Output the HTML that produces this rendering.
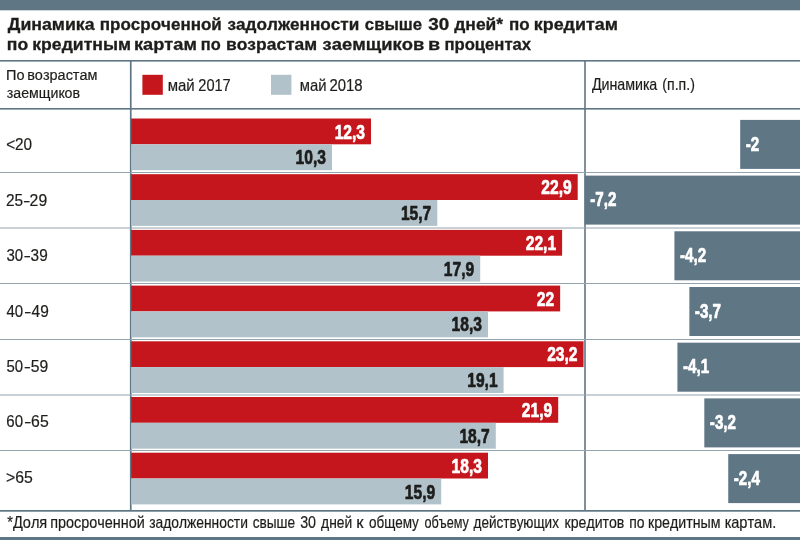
<!DOCTYPE html>
<html lang="ru"><head><meta charset="utf-8"><title>Динамика просроченной задолженности</title>
<style>html,body{margin:0;padding:0;background:#fff}body{width:800px;height:540px;overflow:hidden}svg{display:block}text{font-family:"Liberation Sans",Arial,sans-serif;fill:#1d1d1b;font-kerning:none;white-space:pre}.b{font-weight:bold}.w{fill:#fff}.r{stroke:#1d1d1b;stroke-width:.2px}.v{stroke:#1d1d1b;stroke-width:.7px;stroke-linejoin:round}.v.w{stroke:#fff}.t{stroke:#1d1d1b;stroke-width:.3px}</style></head><body>
<svg width="800" height="540" viewBox="0 0 800 540">
<rect x="0" y="0" width="800" height="540" fill="#fff"/>
<rect x="0" y="0" width="800" height="10.3" fill="#5f7685"/>
<rect x="0" y="537" width="800" height="3" fill="#5f7685"/>
<text class="b t" y="30.00" font-size="16.8"><tspan x="7.84" textLength="86.74" lengthAdjust="spacingAndGlyphs">Динамика</tspan> <tspan x="99.81" textLength="121.97" lengthAdjust="spacingAndGlyphs">просроченной</tspan> <tspan x="227.56" textLength="131.73" lengthAdjust="spacingAndGlyphs">задолженности</tspan> <tspan x="364.85" textLength="57.23" lengthAdjust="spacingAndGlyphs">свыше</tspan> <tspan x="428.32" textLength="20.96" lengthAdjust="spacingAndGlyphs">30</tspan> <tspan x="454.28" textLength="48.84" lengthAdjust="spacingAndGlyphs">дней*</tspan> <tspan x="508.97" textLength="20.60" lengthAdjust="spacingAndGlyphs">по</tspan> <tspan x="533.76" textLength="84.19" lengthAdjust="spacingAndGlyphs">кредитам</tspan></text>
<text class="b t" y="49.60" font-size="16.8"><tspan x="6.88" textLength="21.31" lengthAdjust="spacingAndGlyphs">по</tspan> <tspan x="32.28" textLength="98.70" lengthAdjust="spacingAndGlyphs">кредитным</tspan> <tspan x="133.99" textLength="62.88" lengthAdjust="spacingAndGlyphs">картам</tspan> <tspan x="200.76" textLength="19.88" lengthAdjust="spacingAndGlyphs">по</tspan> <tspan x="226.03" textLength="91.18" lengthAdjust="spacingAndGlyphs">возрастам</tspan> <tspan x="322.62" textLength="101.59" lengthAdjust="spacingAndGlyphs">заемщиков</tspan> <tspan x="428.02" textLength="12.15" lengthAdjust="spacingAndGlyphs">в</tspan> <tspan x="444.44" textLength="86.69" lengthAdjust="spacingAndGlyphs">процентах</tspan></text>
<rect x="0" y="60" width="800" height="1.6" fill="#5f7685"/>
<rect x="0" y="108" width="800" height="1.6" fill="#5f7685"/>
<rect x="0" y="510" width="800" height="1.7" fill="#5f7685"/>
<rect x="129.9" y="60" width="1.7" height="451" fill="#5f7685"/>
<rect x="584.2" y="60" width="1.6" height="451" fill="#5f7685"/>
<text class="r" y="80.30" font-size="15.5"><tspan x="6.02" textLength="18.48" lengthAdjust="spacingAndGlyphs">По</tspan> <tspan x="27.20" textLength="70.30" lengthAdjust="spacingAndGlyphs">возрастам</tspan></text>
<text class="r" y="97.50" font-size="15.5"><tspan x="6.86" textLength="73.15" lengthAdjust="spacingAndGlyphs">заемщиков</tspan></text>
<rect x="142.4" y="74.8" width="20.4" height="20" fill="#c4161c"/>
<text class="r" y="90.90" font-size="17"><tspan x="167.76" textLength="26.98" lengthAdjust="spacingAndGlyphs">май</tspan> <tspan x="198.27" textLength="32.47" lengthAdjust="spacingAndGlyphs">2017</tspan></text>
<rect x="271" y="74.8" width="20.4" height="20" fill="#b1c2cb"/>
<text class="r" y="90.90" font-size="17"><tspan x="299.72" textLength="26.70" lengthAdjust="spacingAndGlyphs">май</tspan> <tspan x="329.55" textLength="33.09" lengthAdjust="spacingAndGlyphs">2018</tspan></text>
<text class="r" y="89.60" font-size="16.4"><tspan x="591.90" textLength="65.30" lengthAdjust="spacingAndGlyphs">Динамика</tspan> <tspan x="662.32" textLength="32.55" lengthAdjust="spacingAndGlyphs">(п.п.)</tspan></text>
<rect x="131.15" y="118.50" width="239.85" height="25.8" fill="#c4161c"/>
<rect x="131.15" y="144.30" width="200.85" height="25.9" fill="#b1c2cb"/>
<rect x="740.20" y="119.90" width="59.80" height="49" fill="#5f7685"/>
<text class="r" y="150.30" font-size="16.8"><tspan x="6.15" textLength="25.95" lengthAdjust="spacingAndGlyphs">&lt;20</tspan></text>
<text class="b w v" x="365.00" y="138.60" font-size="20.4" text-anchor="end" transform="translate(365.00 0) scale(0.765 1) translate(-365.00 0)">12,3</text>
<text class="b v" x="326.00" y="164.40" font-size="20.4" text-anchor="end" transform="translate(326.00 0) scale(0.765 1) translate(-326.00 0)">10,3</text>
<text class="b w v" x="745.70" y="150.70" font-size="20" transform="translate(745.70 0) scale(0.76 1) translate(-745.70 0)">-2</text>
<rect x="0" y="172.00" width="800" height="1" fill="#93a4ae"/>
<rect x="131.15" y="174.20" width="446.55" height="25.8" fill="#c4161c"/>
<rect x="131.15" y="200.00" width="306.15" height="25.9" fill="#b1c2cb"/>
<rect x="584.72" y="175.60" width="215.28" height="49" fill="#5f7685"/>
<text class="r" y="205.72" font-size="16.8"><tspan x="5.97" textLength="17.17" lengthAdjust="spacingAndGlyphs">25</tspan><tspan x="23.90" textLength="5.50" lengthAdjust="spacingAndGlyphs">–</tspan><tspan x="29.61" textLength="17.54" lengthAdjust="spacingAndGlyphs">29</tspan></text>
<text class="b w v" x="571.70" y="194.30" font-size="20.4" text-anchor="end" transform="translate(571.70 0) scale(0.765 1) translate(-571.70 0)">22,9</text>
<text class="b v" x="431.30" y="220.10" font-size="20.4" text-anchor="end" transform="translate(431.30 0) scale(0.765 1) translate(-431.30 0)">15,7</text>
<text class="b w v" x="590.22" y="206.40" font-size="20" transform="translate(590.22 0) scale(0.76 1) translate(-590.22 0)">-7,2</text>
<rect x="0" y="227.50" width="800" height="1" fill="#93a4ae"/>
<rect x="131.15" y="229.90" width="430.95" height="25.8" fill="#c4161c"/>
<rect x="131.15" y="255.70" width="349.05" height="25.9" fill="#b1c2cb"/>
<rect x="674.42" y="231.30" width="125.58" height="49" fill="#5f7685"/>
<text class="r" y="261.14" font-size="16.8"><tspan x="6.43" textLength="16.66" lengthAdjust="spacingAndGlyphs">30</tspan><tspan x="24.50" textLength="5.50" lengthAdjust="spacingAndGlyphs">–</tspan><tspan x="30.61" textLength="17.11" lengthAdjust="spacingAndGlyphs">39</tspan></text>
<text class="b w v" x="556.10" y="250.00" font-size="20.4" text-anchor="end" transform="translate(556.10 0) scale(0.765 1) translate(-556.10 0)">22,1</text>
<text class="b v" x="474.20" y="275.80" font-size="20.4" text-anchor="end" transform="translate(474.20 0) scale(0.765 1) translate(-474.20 0)">17,9</text>
<text class="b w v" x="679.92" y="262.10" font-size="20" transform="translate(679.92 0) scale(0.76 1) translate(-679.92 0)">-4,2</text>
<rect x="0" y="283.00" width="800" height="1" fill="#93a4ae"/>
<rect x="131.15" y="285.60" width="429.00" height="25.8" fill="#c4161c"/>
<rect x="131.15" y="311.40" width="356.85" height="25.9" fill="#b1c2cb"/>
<rect x="689.37" y="287.00" width="110.63" height="49" fill="#5f7685"/>
<text class="r" y="316.56" font-size="16.8"><tspan x="6.41" textLength="16.68" lengthAdjust="spacingAndGlyphs">40</tspan><tspan x="25.10" textLength="5.50" lengthAdjust="spacingAndGlyphs">–</tspan><tspan x="31.55" textLength="17.19" lengthAdjust="spacingAndGlyphs">49</tspan></text>
<text class="b w v" x="554.15" y="305.70" font-size="20.4" text-anchor="end" transform="translate(554.15 0) scale(0.765 1) translate(-554.15 0)">22</text>
<text class="b v" x="482.00" y="331.50" font-size="20.4" text-anchor="end" transform="translate(482.00 0) scale(0.765 1) translate(-482.00 0)">18,3</text>
<text class="b w v" x="694.87" y="317.80" font-size="20" transform="translate(694.87 0) scale(0.76 1) translate(-694.87 0)">-3,7</text>
<rect x="0" y="339.00" width="800" height="1" fill="#93a4ae"/>
<rect x="131.15" y="341.30" width="452.40" height="25.8" fill="#c4161c"/>
<rect x="131.15" y="367.10" width="372.45" height="25.9" fill="#b1c2cb"/>
<rect x="677.41" y="342.70" width="122.59" height="49" fill="#5f7685"/>
<text class="r" y="371.98" font-size="16.8"><tspan x="6.50" textLength="16.58" lengthAdjust="spacingAndGlyphs">50</tspan><tspan x="24.75" textLength="5.25" lengthAdjust="spacingAndGlyphs">–</tspan><tspan x="30.87" textLength="17.47" lengthAdjust="spacingAndGlyphs">59</tspan></text>
<text class="b w v" x="577.55" y="361.40" font-size="20.4" text-anchor="end" transform="translate(577.55 0) scale(0.765 1) translate(-577.55 0)">23,2</text>
<text class="b v" x="497.60" y="387.20" font-size="20.4" text-anchor="end" transform="translate(497.60 0) scale(0.765 1) translate(-497.60 0)">19,1</text>
<text class="b w v" x="682.91" y="373.50" font-size="20" transform="translate(682.91 0) scale(0.76 1) translate(-682.91 0)">-4,1</text>
<rect x="0" y="394.50" width="800" height="1" fill="#93a4ae"/>
<rect x="131.15" y="397.00" width="427.05" height="25.8" fill="#c4161c"/>
<rect x="131.15" y="422.80" width="364.65" height="25.9" fill="#b1c2cb"/>
<rect x="704.32" y="398.40" width="95.68" height="49" fill="#5f7685"/>
<text class="r" y="427.40" font-size="16.8"><tspan x="6.34" textLength="16.75" lengthAdjust="spacingAndGlyphs">60</tspan><tspan x="25.10" textLength="5.50" lengthAdjust="spacingAndGlyphs">–</tspan><tspan x="31.10" textLength="17.57" lengthAdjust="spacingAndGlyphs">65</tspan></text>
<text class="b w v" x="552.20" y="417.10" font-size="20.4" text-anchor="end" transform="translate(552.20 0) scale(0.765 1) translate(-552.20 0)">21,9</text>
<text class="b v" x="489.80" y="442.90" font-size="20.4" text-anchor="end" transform="translate(489.80 0) scale(0.765 1) translate(-489.80 0)">18,7</text>
<text class="b w v" x="709.82" y="429.20" font-size="20" transform="translate(709.82 0) scale(0.76 1) translate(-709.82 0)">-3,2</text>
<rect x="0" y="450.00" width="800" height="1" fill="#93a4ae"/>
<rect x="131.15" y="452.70" width="356.85" height="25.8" fill="#c4161c"/>
<rect x="131.15" y="478.50" width="310.05" height="25.9" fill="#b1c2cb"/>
<rect x="728.24" y="454.10" width="71.76" height="49" fill="#5f7685"/>
<text class="r" y="482.82" font-size="16.8"><tspan x="6.12" textLength="26.79" lengthAdjust="spacingAndGlyphs">&gt;65</tspan></text>
<text class="b w v" x="482.00" y="472.80" font-size="20.4" text-anchor="end" transform="translate(482.00 0) scale(0.765 1) translate(-482.00 0)">18,3</text>
<text class="b v" x="435.20" y="498.60" font-size="20.4" text-anchor="end" transform="translate(435.20 0) scale(0.765 1) translate(-435.20 0)">15,9</text>
<text class="b w v" x="733.74" y="484.90" font-size="20" transform="translate(733.74 0) scale(0.76 1) translate(-733.74 0)">-2,4</text>
<text class="r" y="528.00" font-size="16.2"><tspan x="7.27" textLength="39.99" lengthAdjust="spacingAndGlyphs">*Доля</tspan> <tspan x="50.25" textLength="94.50" lengthAdjust="spacingAndGlyphs">просроченной</tspan> <tspan x="149.17" textLength="98.79" lengthAdjust="spacingAndGlyphs">задолженности</tspan> <tspan x="252.67" textLength="42.44" lengthAdjust="spacingAndGlyphs">свыше</tspan> <tspan x="300.21" textLength="15.85" lengthAdjust="spacingAndGlyphs">30</tspan> <tspan x="321.12" textLength="31.09" lengthAdjust="spacingAndGlyphs">дней</tspan> <tspan x="356.38" textLength="7.29" lengthAdjust="spacingAndGlyphs">к</tspan> <tspan x="368.93" textLength="49.84" lengthAdjust="spacingAndGlyphs">общему</tspan> <tspan x="424.47" textLength="44.31" lengthAdjust="spacingAndGlyphs">объему</tspan> <tspan x="473.62" textLength="85.28" lengthAdjust="spacingAndGlyphs">действующих</tspan> <tspan x="564.55" textLength="59.81" lengthAdjust="spacingAndGlyphs">кредитов</tspan> <tspan x="629.28" textLength="15.30" lengthAdjust="spacingAndGlyphs">по</tspan> <tspan x="648.04" textLength="72.43" lengthAdjust="spacingAndGlyphs">кредитным</tspan> <tspan x="724.77" textLength="51.57" lengthAdjust="spacingAndGlyphs">картам.</tspan></text>
</svg></body></html>
